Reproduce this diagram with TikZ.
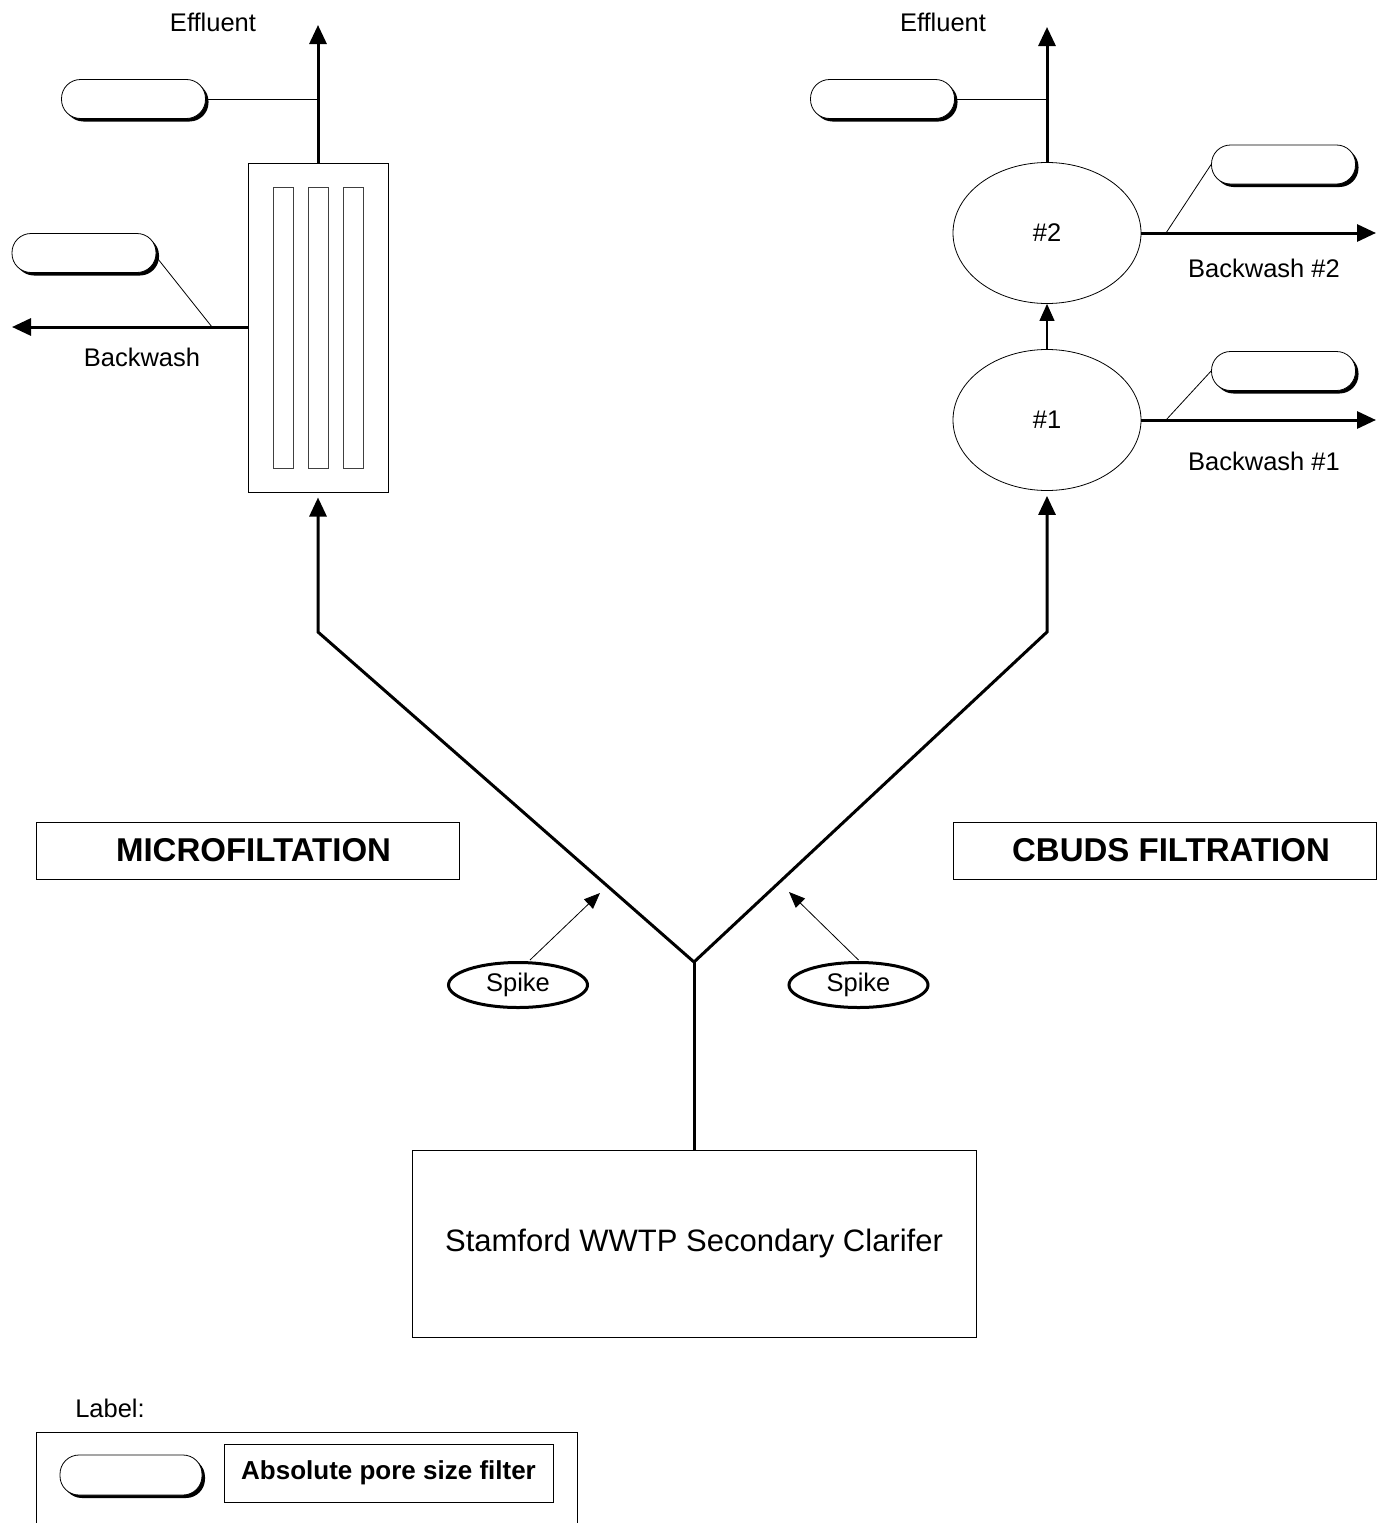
\documentclass[tikz,border=0pt]{standalone}
\usepackage{fontspec}
\setmainfont{Liberation Sans}
\usetikzlibrary{arrows.meta,shapes.geometric,shadows}
\begin{document}
\begin{tikzpicture}[x=1pt,y=-1pt,
  every node/.style={font=\fontsize{25.5pt}{30pt}\selectfont, inner sep=0pt},
  plain/.style={draw=black, line width=1pt, fill=white},
  inner/.style={draw=black!75, line width=1pt, minimum width=20pt, minimum height=281pt},
  capsule/.style={draw=black, line width=0.8pt, fill=white, rounded corners=19pt,
     minimum width=144pt, minimum height=39pt,
     drop shadow={shadow xshift=3pt, shadow yshift=-3pt, fill=black, opacity=1}},
  tank/.style={ellipse, draw=black, line width=0.8pt, minimum width=188pt, minimum height=141pt},
  spike/.style={ellipse, draw=black, line width=3pt, minimum width=139pt, minimum height=45pt},
  titlebox/.style={draw=black, line width=0.8pt, minimum width=423pt, minimum height=57pt,
     font=\fontsize{33pt}{38pt}\selectfont\bfseries},
  pipe/.style={line width=3pt},
  pipearrow/.style={line width=3pt, -{Triangle[length=19pt,width=17pt]}},
  thinline/.style={line width=0.8pt},
  thinarrow/.style={line width=0.8pt, -{Triangle[length=16pt,width=13pt]}}
]
\useasboundingbox (0,0) rectangle (1387,1523);

% Microfiltration unit
\node[plain, minimum width=140pt, minimum height=329pt] (mf) at (318,327.5) {};
\node[inner] (m1) at (283,327.5) {};
\node[inner] (m2) at (318,327.5) {};
\node[inner] (m3) at (353.5,327.5) {};

\coordinate (mfout) at (318,25);
\node (effL) at (213,22) {Effluent};
\draw[pipearrow] (mf.north) -- (mfout);
\node[capsule] (capA) at (133.5,99) {};
\draw[thinline] (capA.east) -- (capA.east -| mf.north);

\coordinate (bwL) at (12,327);
\draw[pipearrow] (mf.west |- bwL) -- (bwL);
\node (bwLtxt) at (142,357) {Backwash};
\node[capsule] (capB) at (84,253) {};
\coordinate (bwLj) at (212,327);
\draw[thinline] ([yshift=-4pt]capB.east) -- (bwLj);

% CBUDS units
\node[tank] (e2) at (1047,233) {\#2};
\node[tank] (e1) at (1047,420) {\#1};
\draw[line width=1.2pt, -{Triangle[length=17pt,width=15pt]}] (e1.north) -- (e2.south);

\coordinate (rout) at (1047,27);
\node (effR) at (943,22) {Effluent};
\draw[pipearrow] (e2.north) -- (rout);
\node[capsule] (capC) at (882.5,99) {};
\draw[thinline] (capC.east) -- (capC.east -| e2.north);

\coordinate (bw2) at (1376,233);
\coordinate (bw1) at (1376,420);
\draw[pipearrow] (e2.east) -- (bw2);
\draw[pipearrow] (e1.east) -- (bw1);
\node (bw2txt) at (1264,268) {Backwash \#2};
\node (bw1txt) at (1264,461) {Backwash \#1};
\node[capsule] (capD) at (1283.5,164.5) {};
\node[capsule] (capE) at (1283.5,371) {};
\coordinate (j2) at (1166,233);
\coordinate (j1) at (1166,420);
\draw[thinline] (capD.west) -- (j2);
\draw[thinline] (capE.west) -- (j1);

% Feed lines
\node[plain, minimum width=564pt, minimum height=187pt, font=\fontsize{31pt}{36pt}\selectfont] (clar) at (694,1243.5) {Stamford WWTP Secondary Clarifer};
\coordinate (j) at (694,962);
\coordinate (kL) at (318,632);
\coordinate (kR) at (1047,632);
\draw[pipe] (clar.north) -- (j);
\draw[pipearrow, line join=miter] (j) -- (kL) -- ([yshift=-5pt]mf.south);
\draw[pipearrow, line join=miter] (j) -- (kR) -- ([yshift=-5pt]e1.south);

% Titles
\node[titlebox] (tL) at (247.5,850.5) {\hspace{12pt}MICROFILTATION};
\node[titlebox] (tR) at (1165,850.5) {\hspace{12pt}CBUDS FILTRATION};

% Spikes
\node[spike] (spL) at (518,985) {Spike};
\node[spike] (spR) at (858.5,985) {Spike};
\coordinate (aL) at (600,893);
\coordinate (aR) at (789,892);
\draw[thinarrow] ([xshift=12pt,yshift=1pt]spL.north) -- (aL);
\draw[thinarrow] ([yshift=1pt]spR.north) -- (aR);

% Legend
\node (lab) at (110,1408) {Label:};
\draw[thinline] (36,1523) -- (36,1432) -- (577,1432) -- (577,1523);
\node[capsule, minimum width=142pt, minimum height=40pt] (capL) at (131,1475) {};
\node[draw=black, line width=0.8pt, minimum width=329pt, minimum height=58pt, font=\fontsize{26pt}{30pt}\selectfont\bfseries] (legtxt) at (388.5,1473) {Absolute pore size filter};
\end{tikzpicture}
\end{document}
